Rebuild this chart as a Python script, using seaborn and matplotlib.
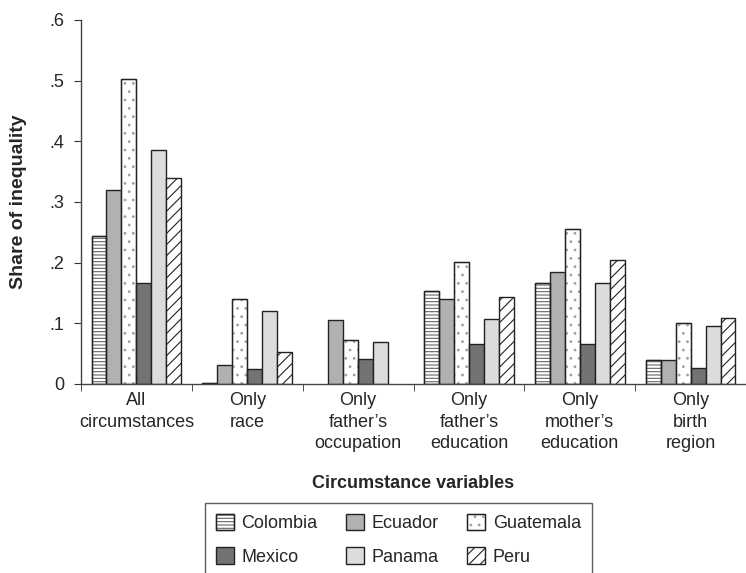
import numpy as np
import pandas as pd
import matplotlib
matplotlib.use('Agg')
import matplotlib.pyplot as plt
import seaborn as sns
from matplotlib.patches import Patch, Rectangle

groups = ['All\ncircumstances', 'Only\nrace', 'Only\nfather\u2019s\noccupation',
          'Only\nfather\u2019s\neducation', 'Only\nmother\u2019s\neducation', 'Only\nbirth\nregion']
countries = ['Colombia', 'Ecuador', 'Guatemala', 'Mexico', 'Panama', 'Peru']

colombia = [0.244, 0.001, np.nan, 0.153, 0.166, 0.040]
ecuador = [0.320, 0.031, 0.106, 0.140, 0.185, 0.040]
guatemala = [0.503, 0.140, 0.073, 0.201, 0.256, 0.100]
mexico = [0.167, 0.024, 0.042, 0.066, 0.066, 0.026]
panama = [0.386, 0.120, 0.070, 0.107, 0.167, 0.095]
peru = [0.340, 0.053, np.nan, 0.143, 0.204, 0.109]

colors = ['white', '#b1b1b3', 'white', '#737375', '#dcdcde', 'white']
hatches = ['-----', '', '..', '', '', '///']
# hatch colour follows edge colour, so light hatches get an extra dark outline on top
hatch_col = ['#666666', None, '#a0a0a0', None, None, None]
edge = '#222222'

series = [colombia, ecuador, guatemala, mexico, panama, peru]
rows = []
for c, vals in zip(countries, series):
    for g, v in zip(groups, vals):
        rows.append({'group': g, 'country': c, 'share': v})
df = pd.DataFrame(rows)

sns.set_style('white')
plt.rcParams['font.family'] = ['Liberation Sans', 'DejaVu Sans']
plt.rcParams['hatch.linewidth'] = 0.8

fig = plt.figure(figsize=(7.46, 5.73), dpi=100)
ax = fig.add_axes([81 / 746, 1 - 384 / 573, 1 - 81 / 746, (384 - 20) / 573])

sns.barplot(data=df, x='group', y='share', hue='country', order=groups,
            hue_order=countries, palette=colors, edgecolor=edge,
            linewidth=1, width=0.81, ax=ax, legend=False)

for i, cont in enumerate(ax.containers):
    for bar in cont:
        bar.set_hatch(hatches[i])
        if hatch_col[i] is not None and not np.isnan(bar.get_height()):
            bar.set_edgecolor(hatch_col[i])
            ax.add_patch(Rectangle((bar.get_x(), bar.get_y()), bar.get_width(),
                                   bar.get_height(), fill=False, edgecolor=edge,
                                   linewidth=1, zorder=bar.get_zorder() + 0.1))

ax.set_ylim(0, 0.6)
ax.set_xlim(-0.5, 5.47)
ax.set_yticks([0, 0.1, 0.2, 0.3, 0.4, 0.5, 0.6])
ax.set_yticklabels(['0', '.1', '.2', '.3', '.4', '.5', '.6'], fontsize=13)
ax.set_xticks(range(len(groups)))
ax.set_xticklabels(groups, fontsize=13, linespacing=1.35)
ax.set_xticks(np.arange(-0.5, 6, 1), minor=True)
ax.tick_params(axis='x', which='major', length=0, pad=6)
ax.tick_params(axis='x', which='minor', length=5, direction='out', color='#333333', bottom=True)
ax.tick_params(axis='y', length=5, direction='out', color='#333333', left=True, pad=7)

for s in ['top', 'right']:
    ax.spines[s].set_visible(False)
for s in ['left', 'bottom']:
    ax.spines[s].set_color('#444444')
    ax.spines[s].set_linewidth(1)

ax.set_xlabel('Circumstance variables', fontsize=13, fontweight='bold', labelpad=16)
ax.set_ylabel('Share of inequality', fontsize=14, fontweight='bold', labelpad=16)

# legend filled row by row like the original
order = [0, 3, 1, 4, 2, 5]
handles = []
for i in order:
    if hatch_col[i] is not None:
        handles.append((Patch(facecolor=colors[i], edgecolor=hatch_col[i], hatch=hatches[i]),
                        Patch(fill=False, edgecolor=edge, linewidth=1)))
    else:
        handles.append(Patch(facecolor=colors[i], edgecolor=edge, hatch=hatches[i], linewidth=1))
labels = [countries[i] for i in order]
fig.legend(handles, labels, ncol=3, loc='upper left',
           bbox_to_anchor=(205 / 746, 1 - 503 / 573), bbox_transform=fig.transFigure,
           borderaxespad=0, fontsize=13, frameon=True, fancybox=False,
           edgecolor='#333333', handlelength=1.0, handleheight=1.0,
           handletextpad=0.4, columnspacing=1.6, labelspacing=0.85, borderpad=0.6)

fig.savefig('out.png', dpi=100)
